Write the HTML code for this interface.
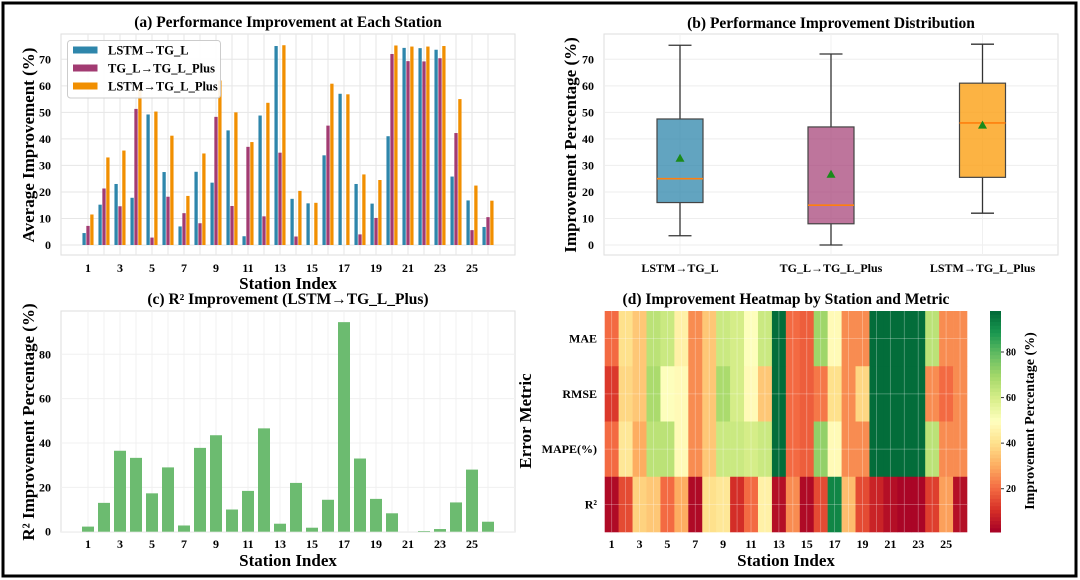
<!DOCTYPE html>
<html><head><meta charset="utf-8">
<style>
html,body{margin:0;padding:0;background:#fff;}
svg{display:block;font-family:"Liberation Serif",serif;font-weight:bold;}
</style></head>
<body>
<svg id="fig" width="1080" height="580" viewBox="0 0 1080 580" xmlns="http://www.w3.org/2000/svg">
<rect x="0" y="0" width="1080" height="580" fill="#fff"/>
<rect x="3" y="3" width="1073" height="573" fill="none" stroke="#000" stroke-width="3"/>
<g id="pa"></g>
<g id="pb"></g>
<g id="pc"></g>
<g id="pd"></g>
</svg>
<script>
const stations = [1,2,3,4,5,6,7,8,9,10,11,12,13,14,15,16,17,18,19,20,21,22,23,24,25,26];
const seriesNames = ["LSTM\u2192TG_L","TG_L\u2192TG_L_Plus","LSTM\u2192TG_L_Plus"];
const lstmToTgl = [4.5,15.2,23,17.8,49.2,27.5,7,27.6,23.5,43.2,3.3,48.8,75,17.4,15.7,33.8,57,23,15.6,41,74.3,74.2,73.6,25.8,16.8,6.8];
const tglToPlus = [7.2,21.3,14.6,51.3,2.8,18.2,12,8.2,48.3,14.7,37,10.8,34.8,3.2,0,45,0,4,10.2,72,69.3,69.2,70.4,42.2,5.6,10.5];
const lstmToPlus = [11.5,33,35.6,60,50.3,41.2,18.5,34.5,62,50,38.8,53.6,75.3,20.4,15.9,60.8,56.8,26.6,24.5,75.2,74.8,74.8,75,55,22.4,16.7];
const yTicksA = [0,10,20,30,40,50,60,70];
const xTickLabels = [1,3,5,7,9,11,13,15,17,19,21,23,25];
const boxLow = [3.5,0,12];
const boxQ1 = [16,8,25.5];
const boxMed = [25,15,46];
const boxQ3 = [47.5,44.5,61];
const boxHigh = [75.3,72,75.7];
const boxMean = [32.5,26.5,45];
const r2Improve = [2.3,13,36.5,33.3,17.3,29,2.8,37.8,43.5,10,18.4,46.6,3.6,22,1.8,14.4,94.5,33,14.8,8.3,0,0.3,1.2,13.2,28,4.5];
const yTicksC = [0,20,40,60,80];
const metrics = ["MAE","RMSE","MAPE(%)","R\u00b2"];
const heatMAE  = [20,40,35,65,62,45,25,35,62,60,50,62,97,20,18,70,48,25,25,97,97,97,97,65,25,25];
const heatRMSE = [12,38,35,68,50,48,25,35,68,60,48,35,97,20,18,22,40,25,38,97,97,97,97,25,20,25];
const heatMAPE = [20,42,30,65,65,48,25,35,62,62,60,62,97,20,18,72,48,25,25,97,97,97,97,65,25,25];
const heatR2   = [3,15,37,35,20,30,3,40,42,10,20,45,4,25,3,15,92,33,15,8,4,2,2,13,28,4];
const cbTicks = [20,40,60,80];

const NS="http://www.w3.org/2000/svg";
function el(tag, attrs, parent, text){
  const e=document.createElementNS(NS,tag);
  for(const k in attrs) e.setAttribute(k,attrs[k]);
  if(text!==undefined) e.textContent=text;
  parent.appendChild(e); return e;
}
const blue="#2e86ab", purple="#a23b72", orange="#f18f01";
const seriesColors=[blue,purple,orange];

// ---------- Panel A ----------
(function(){
  const g=document.getElementById('pa');
  const L=61,R=515,T=34,B=255;
  const xS=i=>88+(i-1)*16;            // station -> px
  const yS=v=>245-v*2.653;
  el('rect',{x:L,y:T,width:R-L,height:B-T,fill:'#fff',stroke:'#ddd'},g);
  stations.forEach(s=>{ el('line',{x1:xS(s),x2:xS(s),y1:T,y2:B,stroke:'#e6e6e6'},g); });
  yTicksA.forEach(v=>{
    el('line',{x1:L,x2:R,y1:yS(v),y2:yS(v),stroke:'#e6e6e6'},g);
    const t=el('text',{x:L-10,y:yS(v)+4,'text-anchor':'end','font-size':12},g,v);
    
    
  });
  const all=[lstmToTgl,tglToPlus,lstmToPlus];
  const w=3.9;
  all.forEach((arr,si)=>{
    arr.forEach((v,i)=>{
      const cx=xS(stations[i])+(si-1)*w;
      const r=el('rect',{x:cx-w/2+0.3,y:yS(v),width:w-0.6,height:yS(0)-yS(v),fill:seriesColors[si]},g);
      
      
    });
  });
  xTickLabels.forEach(s=>{
    const t=el('text',{x:xS(s),y:272,'text-anchor':'middle','font-size':12},g,s);
    
    
  });
  // legend
  const lg=el('g',{},g);
  
  
  el('rect',{x:67.5,y:40.5,width:153,height:57.5,fill:'#fff','fill-opacity':0.9,stroke:'#ccc',rx:3},lg);
  seriesNames.forEach((n,i)=>{
    const y=50+i*18;
    el('rect',{x:73,y:y-3.5,width:24.5,height:7,fill:seriesColors[i]},lg);
    const t=el('text',{x:108,y:y+4.5,'font-size':12.5},lg,n);
    
    
  });
  el('text',{x:288,y:27,'text-anchor':'middle','font-size':15.5},g,'(a) Performance Improvement at Each Station');
  el('text',{x:288,y:289,'text-anchor':'middle','font-size':17},g,'Station Index');
  el('text',{x:0,y:0,'text-anchor':'middle','font-size':17,transform:'translate(34,145) rotate(-90)'},g,'Average Improvement (%)');
})();

// ---------- Panel B ----------
(function(){
  const g=document.getElementById('pb');
  const L=604,R=1058,T=34,B=255;
  const yS=v=>245-v*2.653;
  const cx=[680,831,982.5];
  const fills=["rgba(46,134,171,0.75)","rgba(162,59,114,0.7)","rgba(251,160,20,0.8)"];
  el('rect',{x:L,y:T,width:R-L,height:B-T,fill:'#fff',stroke:'#ddd'},g);
  yTicksA.forEach(v=>{
    el('line',{x1:L,x2:R,y1:yS(v),y2:yS(v),stroke:'#eee'},g);
    const t=el('text',{x:L-10,y:yS(v)+4,'text-anchor':'end','font-size':12},g,v);
    
    
  });
  cx.forEach(c=>el('line',{x1:c,x2:c,y1:T,y2:B,stroke:'#f0f0f0'},g));
  const bw=46;
  seriesNames.forEach((n,i)=>{
    const c=cx[i];
    const bg=el('g',{},g);
    
    
    el('line',{x1:c,x2:c,y1:yS(boxHigh[i]),y2:yS(boxQ3[i]),stroke:'#333','stroke-width':1.3},bg);
    el('line',{x1:c,x2:c,y1:yS(boxQ1[i]),y2:yS(boxLow[i]),stroke:'#333','stroke-width':1.3},bg);
    el('line',{x1:c-11.5,x2:c+11.5,y1:yS(boxHigh[i]),y2:yS(boxHigh[i]),stroke:'#333','stroke-width':1.3},bg);
    el('line',{x1:c-11.5,x2:c+11.5,y1:yS(boxLow[i]),y2:yS(boxLow[i]),stroke:'#333','stroke-width':1.3},bg);
    el('rect',{x:c-bw/2,y:yS(boxQ3[i]),width:bw,height:yS(boxQ1[i])-yS(boxQ3[i]),fill:fills[i],stroke:'#444','stroke-width':1.2},bg);
    el('line',{x1:c-bw/2,x2:c+bw/2,y1:yS(boxMed[i]),y2:yS(boxMed[i]),stroke:'#ff7f0e','stroke-width':1.6},bg);
    const my=yS(boxMean[i]);
    el('polygon',{points:`${c},${my-5} ${c-4.5},${my+3} ${c+4.5},${my+3}`,fill:'#1a8a1a'},bg);
    const t=el('text',{x:c,y:272,'text-anchor':'middle','font-size':12},g,n);
    
    
  });
  el('text',{x:831,y:28,'text-anchor':'middle','font-size':15.5},g,'(b) Performance Improvement Distribution');
  el('text',{x:0,y:0,'text-anchor':'middle','font-size':17,transform:'translate(576,145) rotate(-90)'},g,'Improvement Percentage (%)');
})();

// ---------- Panel C ----------
(function(){
  const g=document.getElementById('pc');
  const L=61,R=515,T=311,B=532;
  const xS=i=>88+(i-1)*16;
  const yS=v=>531.7-v*2.2175;
  el('rect',{x:L,y:T,width:R-L,height:B-T,fill:'#fff',stroke:'#ddd'},g);
  stations.forEach(s=>el('line',{x1:xS(s),x2:xS(s),y1:T,y2:B,stroke:'#f0f0f0'},g));
  yTicksC.forEach(v=>{
    el('line',{x1:L,x2:R,y1:yS(v),y2:yS(v),stroke:'#f0f0f0'},g);
    const t=el('text',{x:L-10,y:yS(v)+4,'text-anchor':'end','font-size':12},g,v);
    
    
  });
  r2Improve.forEach((v,i)=>{
    const x=xS(stations[i]);
    const r=el('rect',{x:x-6,y:yS(v),width:12,height:yS(0)-yS(v),fill:'#6cbb70'},g);
    
    
  });
  xTickLabels.forEach(s=>{
    const t=el('text',{x:xS(s),y:548,'text-anchor':'middle','font-size':12},g,s);
    
    
  });
  el('text',{x:288,y:304,'text-anchor':'middle','font-size':15.5},g,'(c) R\u00b2 Improvement (LSTM\u2192TG_L_Plus)');
  el('text',{x:288,y:566,'text-anchor':'middle','font-size':17},g,'Station Index');
  el('text',{x:0,y:0,'text-anchor':'middle','font-size':17,transform:'translate(34,422) rotate(-90)'},g,'R\u00b2 Improvement Percentage (%)');
})();

// ---------- Panel D ----------
const stops=[[0,[165,0,38]],[0.1,[215,48,39]],[0.2,[244,109,67]],[0.3,[253,174,97]],[0.4,[254,224,139]],[0.5,[255,255,191]],[0.6,[217,239,139]],[0.7,[166,217,106]],[0.8,[102,189,99]],[0.9,[26,152,80]],[1,[0,104,55]]];
function cmap(t){
  t=Math.max(0,Math.min(1,t));
  for(let i=1;i<stops.length;i++){
    if(t<=stops[i][0]){
      const a=stops[i-1],b=stops[i],f=(t-a[0])/(b[0]-a[0]);
      const c=a[1].map((v,k)=>Math.round(v+(b[1][k]-v)*f));
      return `rgb(${c[0]},${c[1]},${c[2]})`;
    }
  }
  return 'rgb(0,104,55)';
}
(function(){
  const g=document.getElementById('pd');
  const L=604.7,R=967,T=311,B=532;
  const vmin=1,vmax=98;
  const rows=[heatMAE,heatRMSE,heatMAPE,heatR2];
  const cw=(R-L)/stations.length, rh=(B-T)/rows.length;
  rows.forEach((row,ri)=>{
    row.forEach((v,ci)=>{
      const r=el('rect',{x:L+ci*cw,y:T+ri*rh,width:cw+0.3,height:rh+0.3,fill:cmap((v-vmin)/(vmax-vmin))},g);
      
      
    });
  });
  stations.forEach((s,ci)=>el('line',{x1:L+(ci+0.5)*cw,x2:L+(ci+0.5)*cw,y1:T,y2:B,stroke:'#fff','stroke-opacity':0.35,'stroke-width':0.8},g));
  metrics.forEach((m,ri)=>{
    el('line',{x1:L,x2:R,y1:T+(ri+0.5)*rh,y2:T+(ri+0.5)*rh,stroke:'#fff','stroke-opacity':0.35,'stroke-width':0.8},g);
    const t=el('text',{x:597,y:T+(ri+0.5)*rh+4,'text-anchor':'end','font-size':12},g,m);
    
    
  });
  xTickLabels.forEach(s=>{
    const t=el('text',{x:L+(s-0.5)*cw,y:548,'text-anchor':'middle','font-size':12},g,s);
    
    
  });
  // colorbar
  const cb=el('g',{},g);
  
  
  const cbL=990,cbW=11,N=60;
  for(let k=0;k<N;k++){
    const y=T+(B-T)*k/N;
    el('rect',{x:cbL,y:y,width:cbW,height:(B-T)/N+0.5,fill:cmap(1-(k+0.5)/N)},cb);
  }
  const cbY=v=>B-(v-vmin)/(vmax-vmin)*(B-T);
  cbTicks.forEach(v=>{
    el('line',{x1:cbL+cbW,x2:cbL+cbW+3,y1:cbY(v),y2:cbY(v),stroke:'#333'},cb);
    el('text',{x:cbL+cbW+5,y:cbY(v)+3.5,'font-size':10},cb,v);
  });
  el('text',{x:0,y:0,'text-anchor':'middle','font-size':14,transform:'translate(1034,421) rotate(-90)'},g,'Improvement Percentage (%)');
  el('text',{x:786,y:304,'text-anchor':'middle','font-size':15.5},g,'(d) Improvement Heatmap by Station and Metric');
  el('text',{x:786,y:566,'text-anchor':'middle','font-size':17},g,'Station Index');
  el('text',{x:0,y:0,'text-anchor':'middle','font-size':17,transform:'translate(531,421) rotate(-90)'},g,'Error Metric');
})();
</script>
</body></html>
